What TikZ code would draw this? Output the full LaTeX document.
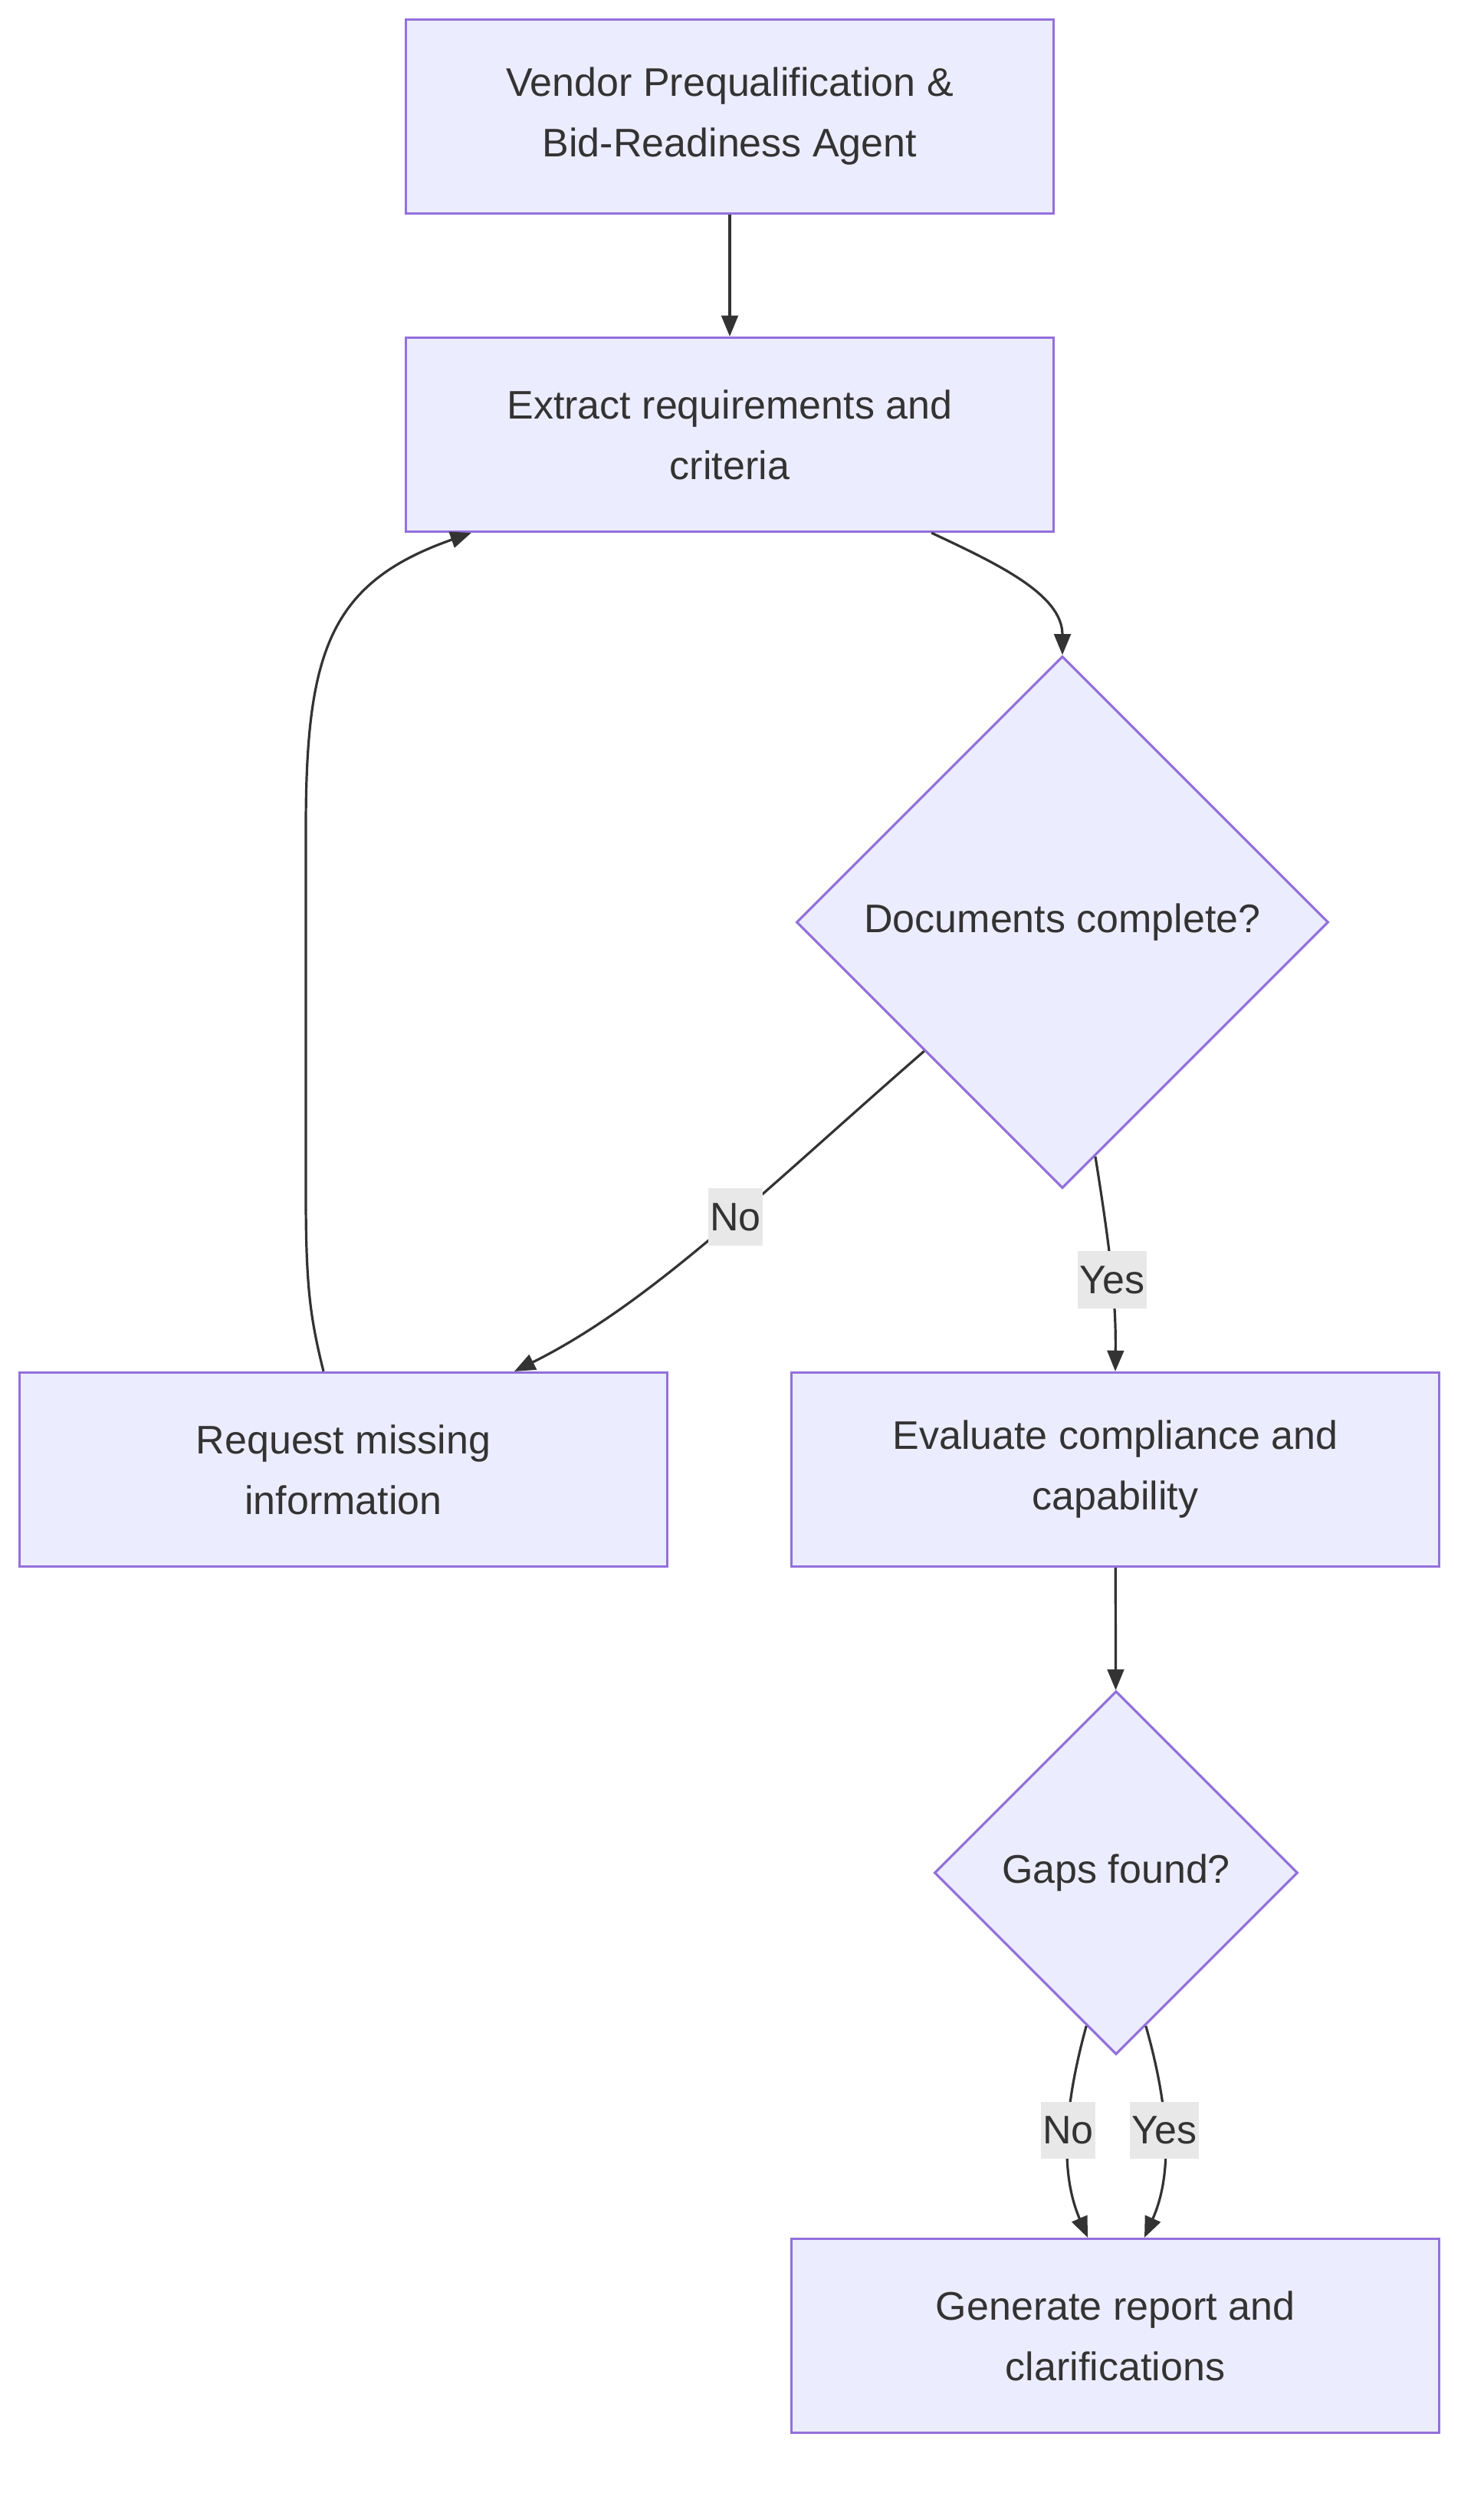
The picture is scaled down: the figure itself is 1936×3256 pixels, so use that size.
\documentclass[tikz,border=0pt]{standalone}
\usepackage{fontspec}
\setmainfont{Liberation Sans}
\usetikzlibrary{shapes.geometric,arrows.meta}
\definecolor{boxfill}{HTML}{ECECFF}
\definecolor{boxline}{HTML}{9370DB}
\definecolor{edgeline}{HTML}{333333}
\definecolor{lblfill}{HTML}{E8E8E8}
\begin{document}
\begin{tikzpicture}[x=0.25pt, y=-0.25pt,
	every node/.style={font=\fontsize{13}{19.75}\selectfont, text=edgeline},
	proc/.style={draw=boxline, fill=boxfill, line width=0.8pt, minimum width=211.25pt, minimum height=63.25pt, align=center, inner sep=0pt},
	decide/.style={draw=boxline, fill=boxfill, line width=0.8pt, diamond, aspect=1, inner sep=0pt, align=center},
	lbl/.style={fill=lblfill, inner xsep=0.6pt, inner ysep=0pt, minimum height=18.7pt},
	flow/.style={draw=edgeline, line width=0.8pt, -{Triangle[length=6.8pt, width=5.4pt]}}]
		\useasboundingbox (0,0) rectangle (1936,3256);

		\node[proc] (agent) at (952,152) {Vendor Prequalification \&\\Bid-Readiness Agent};
		\node[proc] (extract) at (952,567) {Extract requirements and\\criteria};
		\node[decide, minimum size=173.5pt] (docs) at (1386,1203) {Documents complete?};
		\node[proc] (request) at (448,1917) {Request missing\\information};
		\node[proc] (evaluate) at (1455,1917) {Evaluate compliance and\\capability};
		\node[decide, minimum size=118.5pt] (gaps) at (1456,2443) {Gaps found?};
		\node[proc] (report) at (1455,3047) {Generate report and\\clarifications};

		\draw[flow] (agent) -- (extract);
		\draw[flow] ([xshift=65.8pt]extract.south) .. controls (1300,735) and (1386,775) .. (docs.north);
		\draw[flow] (docs.223) .. controls (1000,1550) and (850,1700) .. node[lbl, pos=0.44] {No} ([xshift=55.75pt]request.north);
		\draw[flow] (docs.-82) .. controls (1450,1640) and (1456,1700) .. node[lbl, pos=0.52] {Yes} (evaluate.north);
		\draw[flow] ([xshift=-6.5pt]request.north) .. controls (405,1720) and (399,1680) .. (399,1560) -- (399,1080) .. controls (399,850) and (430,760) .. ([xshift=-84.3pt]extract.south);
		\draw[flow] (evaluate) -- (gaps);
		\draw[flow] (gaps.-101) .. controls (1385,2760) and (1385,2840) .. node[lbl, pos=0.44] {No} ([xshift=-9pt]report.north);
		\draw[flow] (gaps.-79) .. controls (1528,2760) and (1528,2840) .. node[lbl, pos=0.44] {Yes} ([xshift=9.5pt]report.north);

	\end{tikzpicture}
\end{document}
